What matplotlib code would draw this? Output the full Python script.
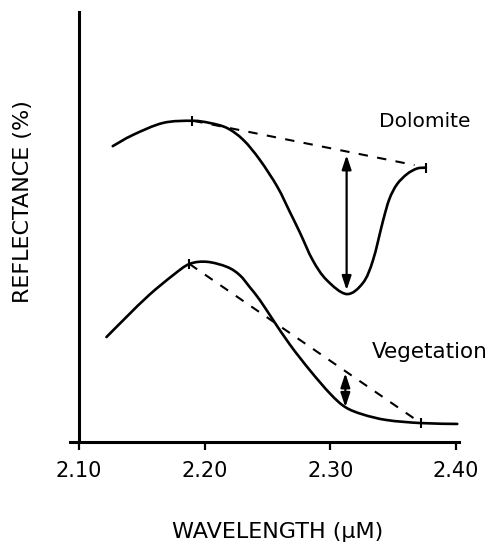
import matplotlib.pyplot as plt
from matplotlib.path import Path
from matplotlib.patches import PathPatch

# wavelength (um) and relative reflectance
dolomite_wl = [2.127, 2.143, 2.167, 2.190, 2.204, 2.218, 2.231, 2.244, 2.258, 2.268, 2.276,
               2.286, 2.297, 2.313, 2.326, 2.334, 2.342, 2.347, 2.353, 2.361, 2.369, 2.376]
dolomite_refl = [68.8, 71.4, 74.2, 74.7, 74.2, 73.0, 70.2, 65.6, 59.3, 53.4, 48.6,
                 42.3, 37.7, 34.4, 37.0, 42.3, 51.5, 56.5, 59.9, 62.3, 63.6, 63.8]

vegetation_wl = [2.122, 2.138, 2.156, 2.175, 2.188, 2.202, 2.218, 2.228, 2.236, 2.244,
                 2.254, 2.268, 2.284, 2.300, 2.312, 2.326, 2.345, 2.372, 2.401]
vegetation_refl = [24.4, 29.1, 34.2, 38.8, 41.4, 41.9, 40.7, 38.8, 36.0, 33.0,
                   28.6, 22.6, 16.6, 11.2, 8.1, 6.4, 5.1, 4.4, 4.2]

# continuum (shoulder-to-shoulder) lines
dolomite_cont_wl = [2.191, 2.367]
dolomite_cont_refl = [74.7, 64.4]
vegetation_cont_wl = [2.188, 2.372]
vegetation_cont_refl = [41.4, 4.4]

# band depth arrows: (wavelength, bottom, top)
dolomite_depth = (2.313, 35.3, 66.7)
vegetation_depth = (2.312, 8.1, 16.0)

# shoulder tick marks on the curves
shoulder_wl = [2.190, 2.376, 2.188, 2.372]
shoulder_refl = [74.7, 63.8, 41.4, 4.4]

xticks = [2.10, 2.20, 2.30, 2.40]
xtick_labels = ["2.10", "2.20", "2.30", "2.40"]


def smooth_path(xs, ys):
    # Catmull-Rom through the read points, drawn as cubic Bezier segments
    pts = list(zip(xs, ys))
    verts = [pts[0]]
    codes = [Path.MOVETO]
    for i in range(len(pts) - 1):
        p0 = pts[max(i - 1, 0)]
        p1 = pts[i]
        p2 = pts[i + 1]
        p3 = pts[min(i + 2, len(pts) - 1)]
        c1 = (p1[0] + (p2[0] - p0[0]) / 6, p1[1] + (p2[1] - p0[1]) / 6)
        c2 = (p2[0] - (p3[0] - p1[0]) / 6, p2[1] - (p3[1] - p1[1]) / 6)
        verts += [c1, c2, p2]
        codes += [Path.CURVE4] * 3
    return Path(verts, codes)


fig = plt.figure(figsize=(4.94, 5.45), dpi=100)
ax = fig.add_axes([0.1417, 0.189, 0.7865, 0.789])

for xs, ys in [(dolomite_wl, dolomite_refl), (vegetation_wl, vegetation_refl)]:
    ax.add_patch(PathPatch(smooth_path(xs, ys), fill=False, edgecolor="black",
                           lw=1.9, capstyle="round", joinstyle="round"))

ax.plot(dolomite_cont_wl, dolomite_cont_refl, color="black", lw=1.5, dashes=(4.5, 4.5))
ax.plot(vegetation_cont_wl, vegetation_cont_refl, color="black", lw=1.5, dashes=(4.5, 4.5))
ax.plot(shoulder_wl, shoulder_refl, ls="none", marker="|", ms=7, mew=1.5, color="black")

for wl, lo, hi in [dolomite_depth, vegetation_depth]:
    ax.annotate("", xy=(wl, hi), xytext=(wl, lo),
                arrowprops=dict(arrowstyle="<|-|>,head_length=0.6,head_width=0.2",
                                color="black", lw=1.6, shrinkA=0, shrinkB=0,
                                mutation_scale=14))

ax.text(2.339, 74.5, "Dolomite", fontsize=14.5, ha="left", va="center")
ax.text(2.333, 20.9, "Vegetation", fontsize=15.5, ha="left", va="center")

ax.set_xlim(2.093, 2.402)
ax.set_ylim(0, 100)
ax.spines["top"].set_visible(False)
ax.spines["right"].set_visible(False)
ax.spines["left"].set_position(("data", 2.10))
ax.spines["left"].set_linewidth(2.2)
ax.spines["bottom"].set_linewidth(2.2)
ax.set_yticks([])
ax.set_xticks(xticks)
ax.set_xticklabels(xtick_labels, fontsize=15)
ax.tick_params(axis="x", direction="out", length=6, width=1.6, pad=8)

fig.text(0.563, 0.024, "WAVELENGTH (µM)", fontsize=16, ha="center", va="center")
fig.text(0.046, 0.631, "REFLECTANCE (%)", fontsize=16, ha="center", va="center", rotation=90)

fig.savefig("out.png", dpi=100)
